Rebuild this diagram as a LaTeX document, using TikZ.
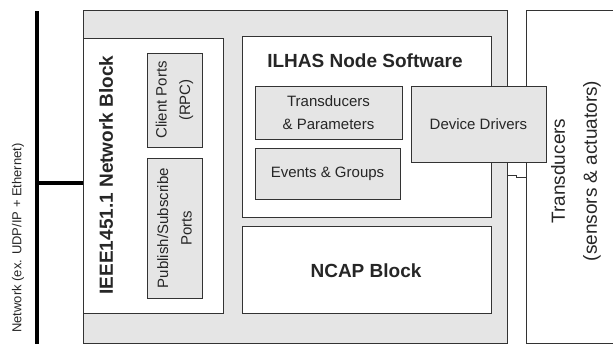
\documentclass[tikz,border=0pt]{standalone}
\usepackage{fontspec}
\setmainfont{Liberation Sans}
\usetikzlibrary{positioning, calc}

\begin{document}
\begin{tikzpicture}[x=1pt, y=-1pt, font=\fontsize{15}{23.5}\selectfont, text=black!85]
\tikzset{every node/.style={inner sep=0pt, outer sep=0pt}}

\tikzstyle{block}=[draw=black!80, line width=1pt]
\tikzstyle{graybox}=[block, fill=black!10]
\tikzstyle{whitebox}=[block, fill=white]
\tikzstyle{title}=[font=\fontsize{19}{23}\selectfont\bfseries]
\tikzstyle{net}=[line width=4.5pt, black]

\useasboundingbox (0,0) rectangle (613,343);
\clip (0,0) rectangle (613,343);

% outer blocks
\node[graybox, anchor=north west, minimum width=424, minimum height=333] (node) at (83,10) {};
\node[whitebox, anchor=north west, minimum width=120, minimum height=333] (trans) at (526,10) {};
\node[rotate=90, align=center, font=\fontsize{19}{32}\selectfont] (trans label) at (576,171) {Transducers\\(sensors \& actuators)};

% network block
\node[whitebox, anchor=north west, minimum width=140, minimum height=275] (netblock) at (83,38) {};
\node[title, rotate=90] (netblock label) at (106,175) {IEEE1451.1 Network Block};
\node[graybox, rotate=90, align=center, minimum width=94, minimum height=55] (client) at (174.5,100) {Client Ports\\(RPC)};
\node[graybox, rotate=90, align=center, minimum width=140, minimum height=55] (pubsub) at (174.5,228) {Publish/Subscribe\\Ports};

% ILHAS software
\node[whitebox, anchor=north west, minimum width=249, minimum height=181] (ilhas) at (242,36) {};
\node[title, anchor=base] (ilhas label) at (365,67) {ILHAS Node Software};
\node[graybox, anchor=north west, align=center, minimum width=147, minimum height=53] (params) at (255,86) {Transducers\\\&~Parameters};
\node[graybox, below=9pt of params.south west, anchor=north west, minimum width=145, minimum height=51] (events) {Events \& Groups};

% NCAP
\node[whitebox, anchor=north west, minimum width=249, minimum height=87] (ncap) at (242,226) {};
\node[title, anchor=base] (ncap label) at (366,277) {NCAP Block};

% drivers sit across the node edge
\node[graybox, anchor=north west, minimum width=135, minimum height=76] (drivers) at (411,86) {Device Drivers};
\draw[block] (node.east |- 0,175.7) -- ++(9,0) |- (trans.west |- 0,177.3);

% network bus
\coordinate (bus top) at (37,11);
\coordinate (bus bottom) at (37,345);
\coordinate (tap) at (37,183);
\draw[net] (bus top) -- (bus bottom);
\draw[net] (tap) -- (tap -| node.west);
\node[rotate=90, font=\fontsize{13}{15}\selectfont] (bus label) at (18,238) {Network (ex. UDP/IP + Ethernet)};

\end{tikzpicture}
\end{document}
